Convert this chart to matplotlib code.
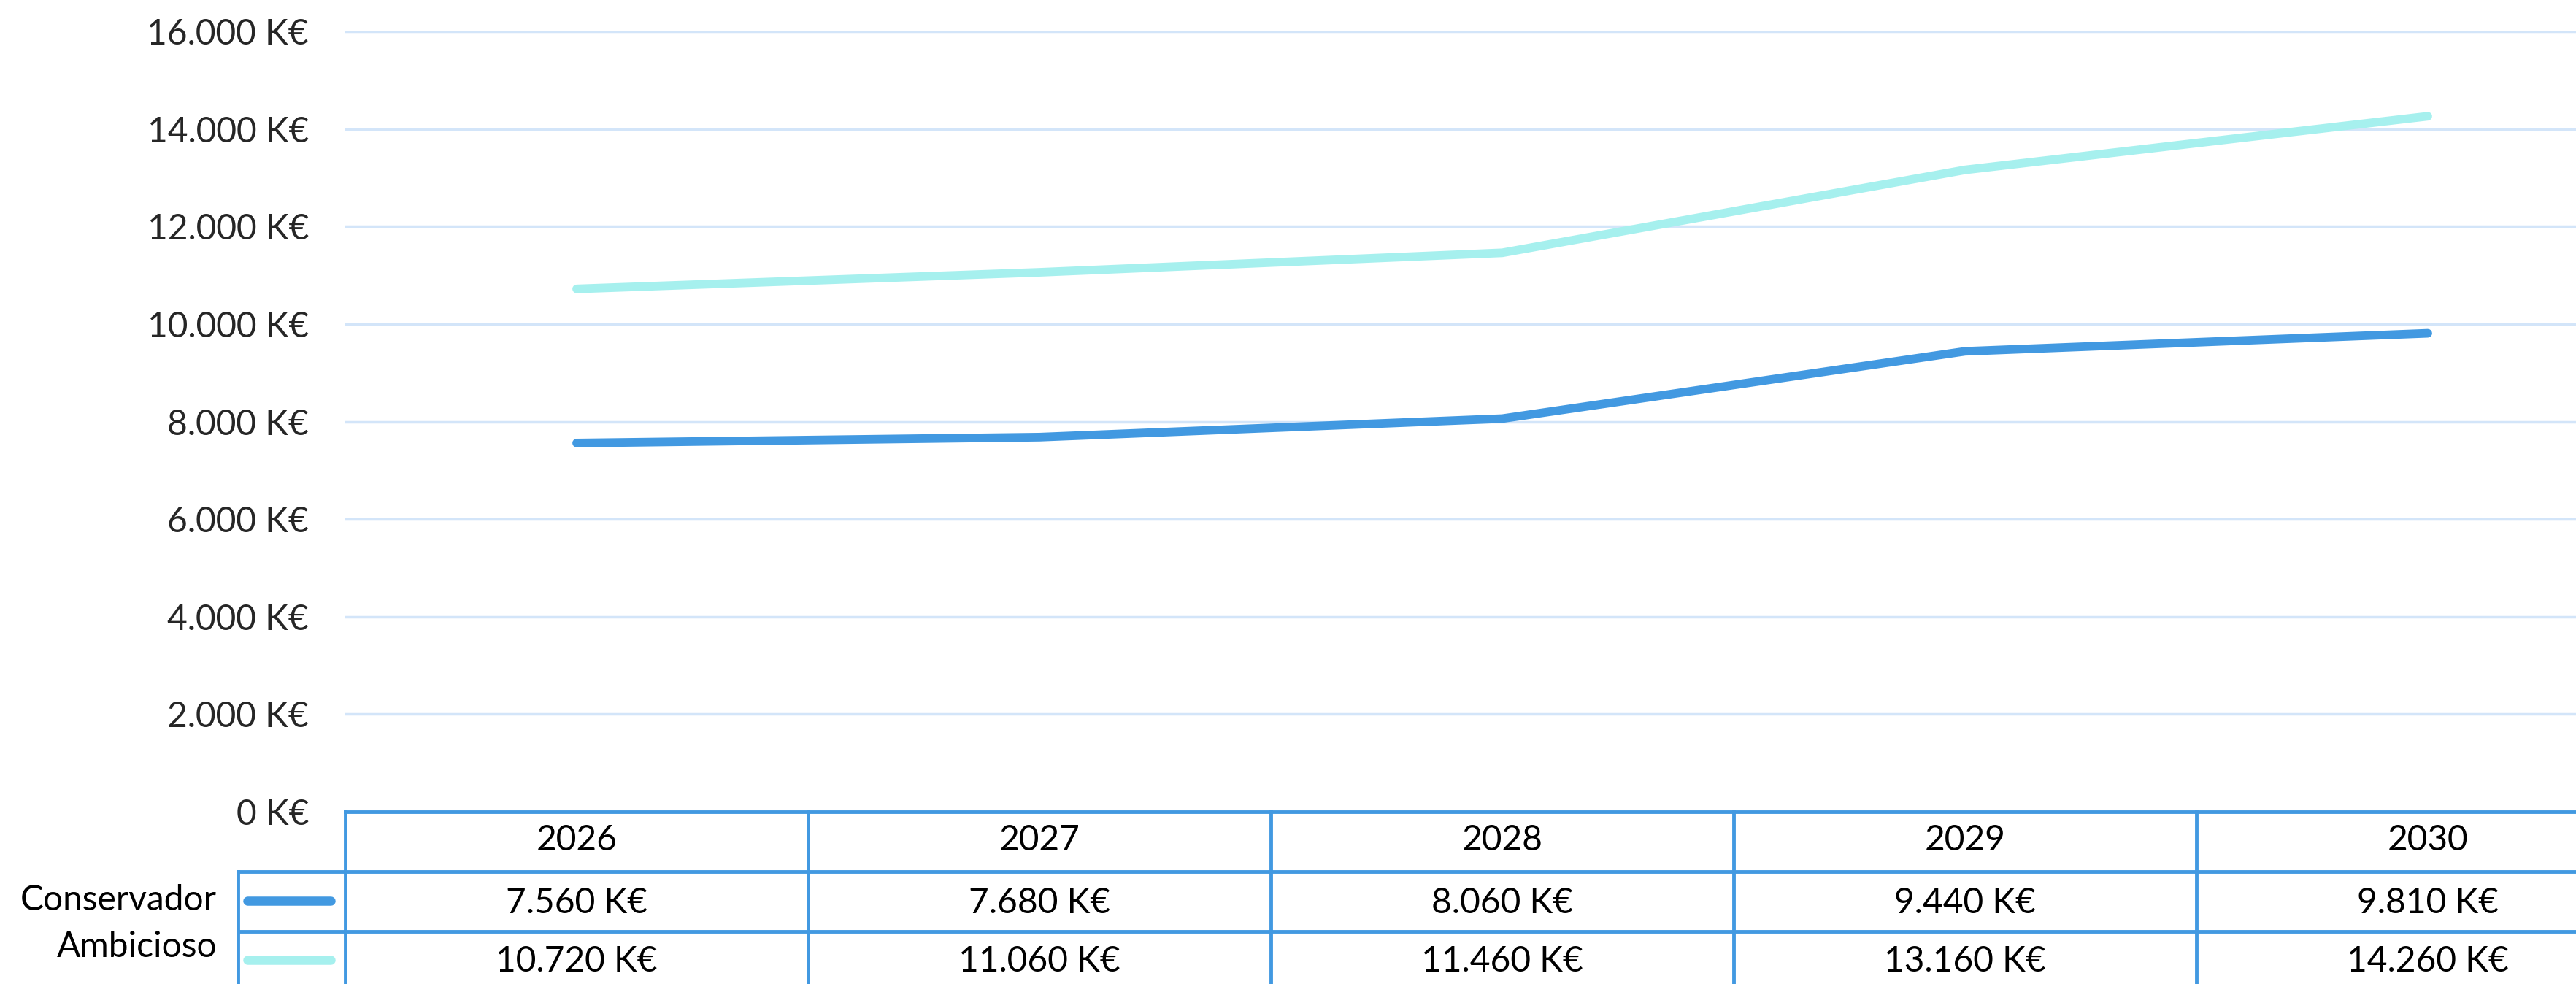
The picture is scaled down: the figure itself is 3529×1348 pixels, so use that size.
import matplotlib

matplotlib.use("Agg")
import matplotlib.pyplot as plt

years = ["2026", "2027", "2028", "2029", "2030"]
series_names = ["Conservador", "Ambicioso"]
conservador = [7560, 7680, 8060, 9440, 9810]
ambicioso = [10720, 11060, 11460, 13160, 14260]
y_ticks = [0, 2000, 4000, 6000, 8000, 10000, 12000, 14000, 16000]

BLUE = "#4299E1"
CYAN = "#A6F0EE"
GRID = "#D3E5F9"
TEXT = "#262626"
FS = 34.5

plt.rcParams["font.family"] = ["Lato", "DejaVu Sans"]


def k_euro(value: float) -> str:
    return f"{value:,.0f}".replace(",", ".") + " K€"


W, H = 3530, 1348
fig = plt.figure(figsize=(W / 100, H / 100), dpi=100)

# plot area (runs off the right edge like the source screenshot)
col_px = 634
left_px, zero_px, top_px = 473, 1112, 43
ax = fig.add_axes([left_px / W, 1 - zero_px / H, 5 * col_px / W, (zero_px - top_px) / H])
x = list(range(len(years)))
values = [conservador, ambicioso]
colors = [BLUE, CYAN]
for data, color in zip(values[::-1], colors[::-1]):
    ax.plot(x, data, color=color, lw=8.5, solid_capstyle="round", solid_joinstyle="round", zorder=3)

ax.set_xlim(-0.5, 4.5)
ax.set_ylim(0, 16000)
ax.set_yticks(y_ticks)
ax.set_yticklabels([k_euro(v) for v in y_ticks])
ax.set_xticks([])
ax.tick_params(axis="y", length=0, pad=36, labelsize=FS, labelcolor=TEXT)
ax.grid(axis="y", color=GRID, lw=2.5, zorder=0)
for spine in ax.spines.values():
    spine.set_visible(False)

# data table under the chart
legend_w = 147 / col_px
row_px = 82
tax = fig.add_axes([(left_px - 147) / W, 1 - (zero_px + 3 * row_px) / H,
                    (5 * col_px + 147) / W, 3 * row_px / H])
tax.set_xlim(-0.5 - legend_w, 4.5)
tax.set_ylim(3, 0)
tax.axis("off")

line_kw = dict(color=BLUE, lw=3.5, clip_on=False, solid_capstyle="projecting")
tax.plot([-0.5, 4.5], [0, 0], **line_kw)
for r in (1, 2, 3):
    tax.plot([-0.5 - legend_w, 4.5], [r, r], **line_kw)
for c in range(6):
    tax.plot([-0.5 + c, -0.5 + c], [0, 3], **line_kw)
tax.plot([-0.5 - legend_w, -0.5 - legend_w], [1, 3], **line_kw)

for i, year in enumerate(years):
    tax.text(i, 0.47, year, ha="center", va="center", fontsize=FS, color="black")

label_y = [1.47, 2.26]
value_y = [1.52, 2.5]
for row, (name, data, color) in enumerate(zip(series_names, values, colors)):
    tax.text(-0.5 - 176 / col_px, label_y[row], name, ha="right", va="center",
             fontsize=FS, color="black")
    tax.plot([-0.711, -0.532], [value_y[row] - 0.03] * 2, color=color, lw=9,
             solid_capstyle="round", clip_on=False)
    for i, v in enumerate(data):
        tax.text(i, value_y[row], k_euro(v), ha="center", va="center", fontsize=FS, color="black")

fig.savefig("out.png", dpi=100)
